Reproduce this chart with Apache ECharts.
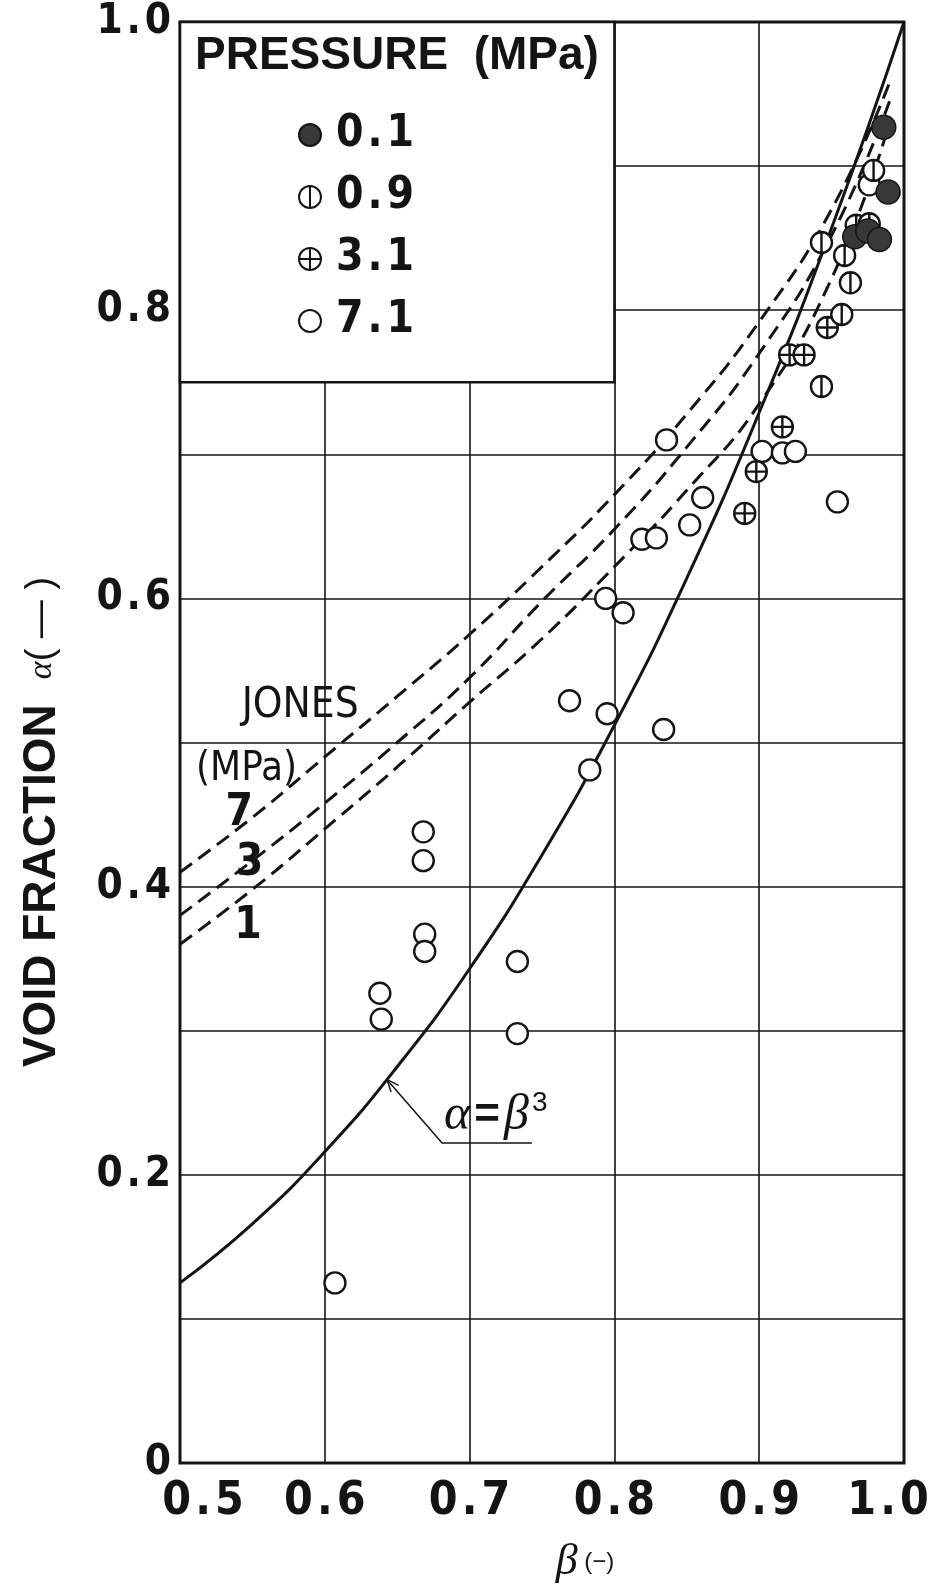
<!DOCTYPE html>
<html>
<head>
<meta charset="utf-8">
<script src="https://cdn.jsdelivr.net/npm/echarts@6/dist/echarts.min.js"></script>
<style>
html, body { margin: 0; padding: 0; background: #fff; }
#main { width: 937px; height: 1586px; }
</style>
</head>
<body>
<div id="main"></div>
<script>
// alpha = beta^3 curve
const betaCurve = [0.5, 0.55, 0.6, 0.65, 0.7, 0.75, 0.8, 0.85, 0.9, 0.95, 1.0]
const alphaCube = [0.125, 0.166, 0.216, 0.275, 0.343, 0.422, 0.512, 0.614, 0.729, 0.857, 1.0]

// Jones correlation, dashed (MPa 7 / 3 / 1)
const jonesBeta = [0.5, 0.55, 0.6, 0.65, 0.7, 0.75, 0.8, 0.85, 0.9, 0.95, 0.99]
const jones7 = [0.41, 0.448, 0.49, 0.532, 0.575, 0.622, 0.672, 0.728, 0.792, 0.87, 0.958]
const jones3 = [0.38, 0.418, 0.458, 0.5, 0.545, 0.598, 0.648, 0.705, 0.77, 0.852, 0.945]
const jones1 = [0.36, 0.398, 0.44, 0.483, 0.528, 0.572, 0.622, 0.675, 0.735, 0.822, 0.93]

// measured points [beta, alpha]
const p01 = [[0.986, 0.927], [0.989, 0.882], [0.966, 0.851], [0.975, 0.855], [0.983, 0.849]]
const p09 = [[0.979, 0.897], [0.967, 0.859], [0.976, 0.860], [0.943, 0.847], [0.959, 0.838],
    [0.963, 0.819], [0.957, 0.797], [0.943, 0.747]]
const p31 = [[0.947, 0.788], [0.921, 0.769], [0.931, 0.769], [0.916, 0.719], [0.898, 0.688], [0.890, 0.659]]
const p71 = [[0.976, 0.887], [0.902, 0.702], [0.916, 0.701], [0.925, 0.702], [0.954, 0.667],
    [0.861, 0.670], [0.836, 0.710], [0.852, 0.651], [0.819, 0.641], [0.829, 0.642],
    [0.794, 0.600], [0.806, 0.590], [0.769, 0.529], [0.795, 0.520], [0.834, 0.509],
    [0.783, 0.481], [0.668, 0.438], [0.668, 0.418], [0.669, 0.367], [0.669, 0.355],
    [0.733, 0.348], [0.638, 0.326], [0.639, 0.308], [0.733, 0.298], [0.607, 0.125]]

const pressureNames = ['0.1', '0.9', '3.1', '7.1']

const NARROW = '"Liberation Sans Narrow", "DejaVu Sans Condensed", sans-serif'
const SANS = '"Liberation Sans", Arial, sans-serif'
const SERIF = '"Liberation Serif", "DejaVu Serif", serif'
const INK = '#141414'

const spaced = (s) => s.split('').join('\u200a')
const pairs = (xs, ys) => xs.map((x, i) => [x, ys[i]])

const circlePath = 'path://M0,-10A10,10,0,1,1,0,10A10,10,0,1,1,0,-10Z'
const barPath = circlePath + 'M0,-10L0,10'
const crossPath = barPath + 'M-10,0L10,0'

var chart = echarts.init(document.getElementById('main'))

var jonesLine = (data) => ({
    type: 'line',
    data: data,
    smooth: true,
    symbol: 'none',
    silent: true,
    z: 2,
    lineStyle: { color: INK, width: 3, type: [15, 8] },
})

var openStyle = { color: '#fff', borderColor: INK, borderWidth: 2.4, opacity: 1 }
var tickFont = { fontFamily: NARROW, fontWeight: 'bold', fontSize: 46, color: INK }

var option = {
    animation: false,
    backgroundColor: '#fff',
    grid: {
        left: 180, right: 33, top: 22, bottom: 123,
        outerBoundsMode: 'none',
        show: true, borderColor: INK, borderWidth: 3,
    },
    xAxis: {
        type: 'value', min: 0.5, max: 1.0, interval: 0.1,
        axisLine: { show: false }, axisTick: { show: false },
        splitLine: { lineStyle: { color: INK, width: 1.6 } },
        axisLabel: Object.assign({}, tickFont, {
            margin: 16,
            formatter: (v) => {
                let s = spaced(v.toFixed(1))
                if (Math.abs(v - 0.5) < 1e-6) return '{f|' + s + '}'
                if (Math.abs(v - 1.0) < 1e-6) return '{l|' + s + '}'
                return s
            },
            rich: {
                f: Object.assign({ padding: [0, 0, 0, 46] }, tickFont),
                l: Object.assign({ padding: [0, 32, 0, 0] }, tickFont),
            },
        }),
    },
    yAxis: {
        type: 'value', min: 0, max: 1.0, interval: 0.1,
        axisLine: { show: false }, axisTick: { show: false },
        splitLine: { lineStyle: { color: INK, width: 1.6 } },
        axisLabel: {
            color: INK, fontFamily: NARROW, fontWeight: 'bold', fontSize: 42, margin: 9,
            formatter: (v) => {
                let k = Math.round(v * 10)
                if (k % 2) return ''
                return k === 0 ? '0' : spaced(v.toFixed(1))
            },
        },
    },
    legend: {
        data: pressureNames,
        orient: 'vertical',
        left: 293, top: 108,
        itemWidth: 22, itemHeight: 22, itemGap: 18,
        z: 6,
        formatter: (name) => spaced(name),
        textStyle: { color: INK, fontFamily: NARROW, fontWeight: 'bold', fontSize: 44, padding: [0, 0, 0, 10] },
    },
    series: [
        {
            type: 'line', data: pairs(betaCurve, alphaCube), smooth: true, symbol: 'none',
            silent: true, z: 2, lineStyle: { color: INK, width: 3 },
        },
        jonesLine(pairs(jonesBeta, jones7)),
        jonesLine(pairs(jonesBeta, jones3)),
        jonesLine(pairs(jonesBeta, jones1)),
        { name: '7.1', type: 'scatter', data: p71, symbol: 'circle', symbolSize: 21, z: 3, itemStyle: openStyle },
        { name: '3.1', type: 'scatter', data: p31, symbol: crossPath, symbolSize: 21, z: 3, itemStyle: openStyle },
        { name: '0.9', type: 'scatter', data: p09, symbol: barPath, symbolSize: 21, z: 3, itemStyle: openStyle },
        {
            name: '0.1', type: 'scatter', data: p01, symbol: 'circle', symbolSize: 24, z: 4,
            itemStyle: { color: '#383838', borderColor: INK, borderWidth: 1.5, opacity: 1 },
        },
    ],
}
chart.setOption(option)

// annotations, placed from data coordinates
function annotate() {
    const px = (b, a) => chart.convertToPixel({ gridIndex: 0 }, [b, a])
    const tl = px(0.5, 1.0)
    const br = px(0.8, 0.75)
    const tip = px(0.643, 0.266)
    const knee = px(0.681, 0.222)
    const tail = px(0.743, 0.222)

    // arrow head barbs
    let dx = knee[0] - tip[0], dy = knee[1] - tip[1]
    let len = Math.sqrt(dx * dx + dy * dy)
    dx /= len; dy /= len
    const barb = (ang) => {
        let c = Math.cos(ang), s = Math.sin(ang)
        return [tip[0] + 13 * (dx * c - dy * s), tip[1] + 13 * (dx * s + dy * c)]
    }

    const label = (b, a, text, size, weight) => ({
        type: 'text', z: 6,
        position: px(b, a),
        style: {
            text: text, fill: INK, fontFamily: NARROW, fontSize: size, fontWeight: weight || 'normal',
            align: 'center', verticalAlign: 'middle',
        },
    })

    chart.setOption({
        graphic: [
            {
                type: 'rect', z: 5,
                shape: { x: tl[0], y: tl[1], width: br[0] - tl[0], height: br[1] - tl[1] },
                style: { fill: '#fff', stroke: INK, lineWidth: 2.5 },
            },
            {
                type: 'text', z: 6, position: [tl[0] + 15, tl[1] + 34],
                style: {
                    text: 'PRESSURE  (MPa)', fill: INK, fontFamily: SANS, fontWeight: 'bold',
                    fontSize: 46, verticalAlign: 'middle',
                },
            },
            label(0.583, 0.525, 'JONES', 42),
            label(0.546, 0.481, '(MPa)', 40),
            label(0.541, 0.451, '7', 44, 'bold'),
            label(0.548, 0.416, '3', 44, 'bold'),
            label(0.547, 0.372, '1', 44, 'bold'),
            {
                type: 'polyline', z: 6,
                shape: { points: [tip, knee, tail] },
                style: { stroke: INK, lineWidth: 1.5, fill: null },
            },
            {
                type: 'polyline', z: 6,
                shape: { points: [barb(0.4), tip, barb(-0.4)] },
                style: { stroke: INK, lineWidth: 1.5, fill: null },
            },
            {
                type: 'text', z: 6,
                position: [knee[0] + 2, knee[1] - 27],
                style: {
                    text: '{a|α}{e|=}{a|β}{s|3}',
                    verticalAlign: 'middle',
                    rich: {
                        a: { fontFamily: SERIF, fontStyle: 'italic', fontSize: 50, fill: INK },
                        e: { fontFamily: SANS, fontWeight: 'bold', fontSize: 44, fill: INK, padding: [0, 4, 0, 4] },
                        s: { fontFamily: SANS, fontSize: 28, fill: INK, padding: [0, 0, 26, 3] },
                    },
                },
            },
            {
                type: 'text', z: 6,
                position: [42, 822],
                rotation: Math.PI / 2,
                style: {
                    text: '{m|VOID FRACTION}{g|   }{a|α}{p|( — )}',
                    align: 'center', verticalAlign: 'middle',
                    rich: {
                        m: { fontFamily: SANS, fontWeight: 'bold', fontSize: 46, fill: INK },
                        g: { fontSize: 30 },
                        a: { fontFamily: SERIF, fontStyle: 'italic', fontSize: 34, fill: INK },
                        p: { fontFamily: SANS, fontSize: 38, fill: INK },
                    },
                },
            },
            {
                type: 'text', z: 6,
                position: [585, 1562],
                style: {
                    text: '{b|β}{p| (−)}',
                    align: 'center', verticalAlign: 'middle',
                    rich: {
                        b: { fontFamily: SERIF, fontStyle: 'italic', fontSize: 44, fill: INK },
                        p: { fontFamily: SANS, fontSize: 24, fill: INK },
                    },
                },
            },
        ],
    })
}
annotate()
</script>
</body>
</html>
